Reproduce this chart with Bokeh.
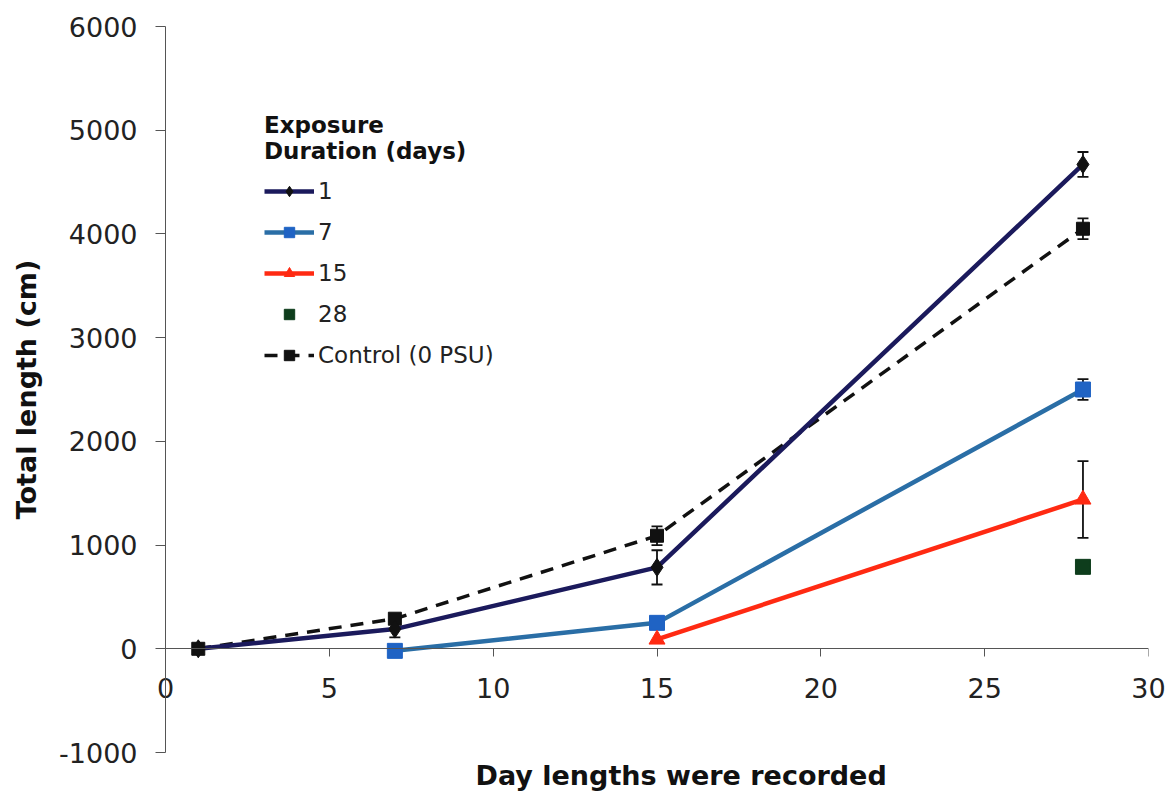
from bokeh.plotting import figure
from bokeh.models import (ColumnDataSource, Whisker, Legend, LegendItem, Title,
                          FixedTicker, TeeHead, PrintfTickFormatter,
                          CustomJSTickFormatter, LinearAxis)
from bokeh.embed import file_html
from bokeh.resources import INLINE

# ---- data ----
days_1 = [1, 7, 15, 28]
len_1 = [0, 190, 785, 4670]
err_1 = [0, 80, 165, 120]

days_7 = [7, 15, 28]
len_7 = [-20, 250, 2500]
err_7 = [0, 0, 100]

days_15 = [15, 28]
len_15 = [90, 1440]
err_15 = [0, 370]

days_28 = [28]
len_28 = [790]

days_ctrl = [1, 7, 15, 28]
len_ctrl = [0, 290, 1090, 4050]
err_ctrl = [0, 40, 90, 100]

x_ticks = [0, 5, 10, 15, 20, 25, 30]
y_ticks = [-1000, 0, 1000, 2000, 3000, 4000, 5000, 6000]

C1 = "#1b1a5c"
C7 = "#2a6ea6"
C7M = "#1f63c4"
C15 = "#ff2a12"
C28 = "#0e3d1c"
CC = "#111111"

TICK_FONT = "DejaVu Sans"
BOLD_FONT = "DejaVu Sans"

p = figure(width=1173, height=805, x_range=(0, 30), y_range=(-1000, 6000),
           output_backend="svg", toolbar_location=None,
           min_border_left=165, min_border_right=25, min_border_top=26,
           min_border_bottom=53)
p.outline_line_color = None
p.xgrid.visible = False
p.ygrid.visible = False
p.background_fill_color = "white"
p.border_fill_color = "white"

# x axis line + ticks crossing at y = 0
p.xaxis.fixed_location = 0
p.xaxis.ticker = FixedTicker(ticks=x_ticks)
p.xaxis.formatter = CustomJSTickFormatter(code="return ''")
p.yaxis.ticker = FixedTicker(ticks=y_ticks)
p.yaxis.formatter = PrintfTickFormatter(format="%d")
for ax in (p.xaxis, p.yaxis):
    ax.axis_line_color = "#555555"
    ax.axis_line_width = 1
    ax.major_tick_line_color = "#555555"
    ax.minor_tick_line_color = None
    ax.major_tick_in = 0
    ax.major_label_text_font = TICK_FONT
    ax.major_label_text_font_size = "27px"
    ax.major_label_text_color = "#222222"
p.xaxis.major_tick_out = 8
p.yaxis.major_tick_out = 10
p.yaxis.major_label_standoff = 18
p.yaxis.axis_label = "Total length (cm)"
p.yaxis.axis_label_text_font = BOLD_FONT
p.yaxis.axis_label_text_font_style = "bold"
p.yaxis.axis_label_text_font_size = "27px"
p.yaxis.axis_label_text_color = "#111111"
p.yaxis.axis_label_standoff = 14

# x tick labels: a second bottom axis whose labels are pulled up under y = 0
xlab = LinearAxis(ticker=FixedTicker(ticks=x_ticks),
                  axis_line_color=None, major_tick_line_color=None,
                  minor_tick_line_color=None, major_tick_in=0, major_tick_out=0,
                  major_label_standoff=-75,
                  major_label_text_font=TICK_FONT, major_label_text_font_size="27px",
                  major_label_text_color="#222222")
p.add_layout(xlab, "below")

p.add_layout(Title(text="Day lengths were recorded", align="left", offset=310,
                   text_font=BOLD_FONT, text_font_style="bold",
                   text_font_size="27px", text_color="#111111"), "below")

# control (dashed)
lc = p.line(days_ctrl, len_ctrl, line_color=CC, line_width=3.5, line_dash="13 9")
# series
l1 = p.line(days_1, len_1, line_color=C1, line_width=4.5)
l7 = p.line(days_7, len_7, line_color=C7, line_width=4.5)
l15 = p.line(days_15, len_15, line_color=C15, line_width=4.5)


def add_whiskers(xs, ys, es):
    pts = [(x, y, e) for x, y, e in zip(xs, ys, es) if e > 0]
    src = ColumnDataSource(dict(base=[a for a, _, _ in pts],
                                upper=[b + c for _, b, c in pts],
                                lower=[b - c for _, b, c in pts]))
    w = Whisker(source=src, base="base", upper="upper", lower="lower",
                line_color="#111111", line_width=1.8,
                upper_head=TeeHead(size=11, line_color="#111111", line_width=1.8),
                lower_head=TeeHead(size=11, line_color="#111111", line_width=1.8))
    p.add_layout(w)


add_whiskers(days_1, len_1, err_1)
add_whiskers(days_7, len_7, err_7)
add_whiskers(days_15, len_15, err_15)
add_whiskers(days_ctrl, len_ctrl, err_ctrl)

mc = p.scatter(days_ctrl, len_ctrl, marker="square", size=13, fill_color=CC, line_color=CC)
m1 = p.scatter(days_1, len_1, marker="diamond", size=18, fill_color="#111111", line_color="#111111")
m7 = p.scatter(days_7, len_7, marker="square", size=15, fill_color=C7M, line_color=C7M)
m15 = p.scatter(days_15, len_15, marker="triangle", size=16, fill_color=C15, line_color=C15)
m28 = p.scatter(days_28, len_28, marker="square", size=15, fill_color=C28, line_color=C28)

legend = Legend(items=[
    LegendItem(label="1", renderers=[l1, m1]),
    LegendItem(label="7", renderers=[l7, m7]),
    LegendItem(label="15", renderers=[l15, m15]),
    LegendItem(label="28", renderers=[m28]),
    LegendItem(label="Control (0 PSU)", renderers=[lc, mc]),
], location=(99, 384), title="Exposure\nDuration (days)",
    title_text_font=BOLD_FONT, title_text_font_style="bold",
    title_text_font_size="23px", title_text_color="#111111", title_standoff=14,
    label_text_font=TICK_FONT, label_text_font_size="23px", label_text_color="#222222",
    glyph_width=50, glyph_height=26, label_height=26, label_standoff=4, spacing=15,
    padding=4, margin=0, background_fill_alpha=0, border_line_color=None)
p.add_layout(legend)

open("out.html", "w").write(file_html(p, INLINE))
